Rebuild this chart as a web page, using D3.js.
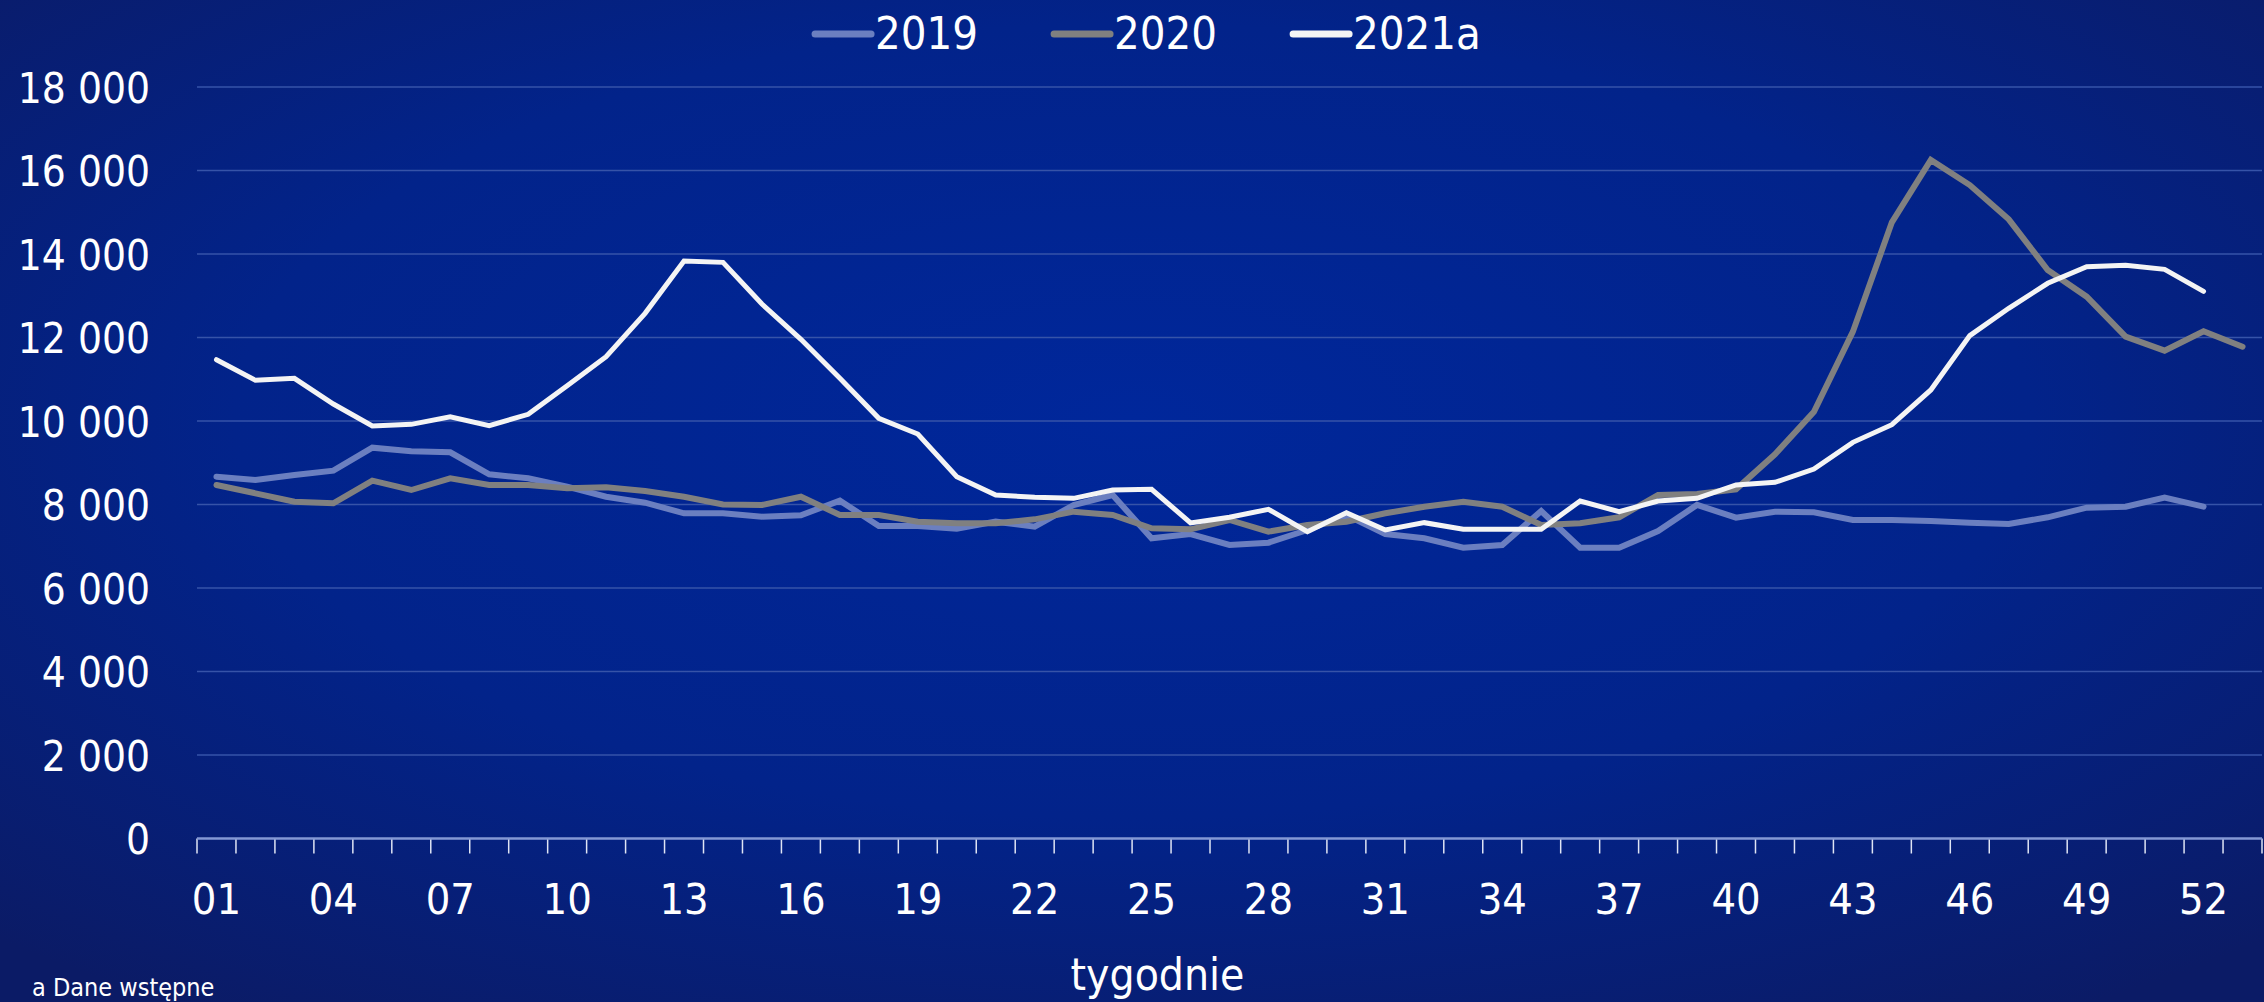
<!DOCTYPE html>
<html>
<head>
<meta charset="utf-8">
<script src="https://cdn.jsdelivr.net/npm/d3@7"></script>
<style>
    body { margin: 0; background: #0a1c68; }
    svg text { font-family: 'DejaVu Sans Condensed', 'DejaVu Sans', sans-serif; font-stretch: condensed; fill: #ffffff; }
</style>
</head>
<body>
<div id="chart"></div>
<script>
// tygodnie 01..53
let weeks = d3.range(1, 54).map(function (d) { return d < 10 ? "0" + d : String(d) })
let weekLabels = ["01", "04", "07", "10", "13", "16", "19", "22", "25", "28", "31", "34", "37", "40", "43", "46", "49", "52"]
let yTicks = [0, 2000, 4000, 6000, 8000, 10000, 12000, 14000, 16000, 18000]

let seriesNames = ["2019", "2020", "2021a"]
let seriesColors = ["#6b7fc0", "#808080", "#f4f4f4"]

let values2019 = [8667, 8587, 8707, 8810, 9361, 9274, 9250, 8723, 8627, 8427,
    8187, 8044, 7789, 7789, 7709, 7741, 8092, 7485, 7485, 7421,
    7589, 7469, 7988, 8228, 7190, 7293, 7030, 7086, 7389, 7749,
    7293, 7190, 6966, 7030, 7844, 6966, 6966, 7365, 7990, 7685,
    7828, 7812, 7629, 7629, 7605, 7565, 7533, 7693, 7924, 7948,
    8164, 7948]

let values2020 = [8467, 8268, 8068, 8028, 8571, 8347, 8627, 8467, 8467, 8387,
    8411, 8323, 8187, 8000, 7988, 8187, 7749, 7749, 7589, 7549,
    7549, 7645, 7828, 7749, 7429, 7406, 7629, 7349, 7509, 7589,
    7789, 7948, 8068, 7948, 7509, 7549, 7693, 8228, 8252, 8363,
    9202, 10223, 12140, 14758, 16251, 15652, 14830, 13617, 12978, 12020,
    11684, 12148, 11780]

let values2021 = [11468, 10974, 11022, 10407, 9880, 9920, 10103, 9888, 10160, 10846,
    11541, 12579, 13832, 13800, 12802, 11956, 11022, 10064, 9689, 8667,
    8228, 8172, 8148, 8347, 8363, 7560, 7693, 7885, 7349, 7804,
    7389, 7565, 7406, 7406, 7406, 8084, 7828, 8084, 8148, 8467,
    8531, 8850, 9489, 9912, 10743, 12044, 12699, 13298, 13696, 13729,
    13633, 13106]

let allSeries = [values2019, values2020, values2021]

let W = 2264, H = 1002
let margin = {top: 87, right: 2, bottom: 163.5, left: 197}

let svg = d3.select("#chart")
    .append("svg")
    .attr("width", W)
    .attr("height", H)

// tlo z gradientem
let grad = svg.append("defs").append("radialGradient")
    .attr("id", "bg")
    .attr("cx", "50%").attr("cy", "42%").attr("r", "72%")
grad.append("stop").attr("offset", "0%").attr("stop-color", "#00279b")
grad.append("stop").attr("offset", "55%").attr("stop-color", "#02238a")
grad.append("stop").attr("offset", "100%").attr("stop-color", "#0b1b66")

svg.append("rect")
    .attr("width", W)
    .attr("height", H)
    .attr("fill", "url(#bg)")

let x = d3.scaleBand()
    .domain(weeks)
    .range([margin.left, W - margin.right])
    .paddingInner(0)
    .paddingOuter(0)

let y = d3.scaleLinear()
    .domain([0, 18000])
    .range([H - margin.bottom, margin.top])

// linie siatki
svg.append("g")
    .selectAll("line")
    .data(yTicks.filter(function (d) { return d > 0 }))
    .enter()
    .append("line")
    .attr("x1", margin.left)
    .attr("x2", W - margin.right)
    .attr("y1", function (d) { return y(d) })
    .attr("y2", function (d) { return y(d) })
    .attr("stroke", "#3653a8")
    .attr("stroke-width", 1.5)

// os Y
let fmt = function (d) { return d3.format(",")(d).replace(/,/g, " ") }
let yAxis = svg.append("g")
    .attr("transform", "translate(" + (margin.left - 47) + ",0)")
    .call(d3.axisLeft(y).tickValues(yTicks).tickFormat(fmt).tickSize(0).tickPadding(0))
yAxis.select(".domain").remove()
yAxis.selectAll("text")
    .style("font-size", "42px")
    .attr("dy", "0.36em")

// os X
let xAxis = svg.append("g")
    .attr("transform", "translate(0," + y(0) + ")")
    .call(d3.axisBottom(x).tickValues(weekLabels).tickSize(0).tickPadding(0))
xAxis.select(".domain").remove()
xAxis.selectAll("text")
    .style("font-size", "43px")
    .attr("dy", "0")
    .attr("y", 75)

let bounds = weeks.map(function (d) { return x(d) }).concat([x(weeks[weeks.length - 1]) + x.bandwidth()])
svg.append("g")
    .selectAll("line")
    .data(bounds)
    .enter()
    .append("line")
    .attr("x1", function (d) { return d })
    .attr("x2", function (d) { return d })
    .attr("y1", y(0))
    .attr("y2", y(0) + 15)
    .attr("stroke", "#dfe4f4")
    .attr("stroke-width", 1.5)

svg.append("line")
    .attr("x1", margin.left)
    .attr("x2", W - margin.right)
    .attr("y1", y(0))
    .attr("y2", y(0))
    .attr("stroke", "#8498d4")
    .attr("stroke-width", 2.5)

// serie
let line = d3.line()
    .x(function (d, i) { return x(weeks[i]) + x.bandwidth() / 2 })
    .y(function (d) { return y(d) })

svg.append("g")
    .selectAll("path")
    .data(allSeries)
    .enter()
    .append("path")
    .attr("d", line)
    .attr("fill", "none")
    .attr("stroke", function (d, i) { return seriesColors[i] })
    .attr("stroke-width", function (d, i) { return i === 2 ? 5 : 6 })
    .attr("stroke-linecap", "round")
    .attr("stroke-linejoin", "miter")

// legenda
let legend = svg.append("g")
let lx = 0
let items = []
seriesNames.forEach(function (name, i) {
    let g = legend.append("g")
    g.append("line")
        .attr("x1", 0).attr("x2", 56)
        .attr("y1", 0).attr("y2", 0)
        .attr("stroke", seriesColors[i])
        .attr("stroke-width", 7)
        .attr("stroke-linecap", "round")
    let t = g.append("text")
        .attr("x", 60)
        .attr("y", 15)
        .style("font-size", "45px")
        .text(name)
    items.push({g: g, w: 60 + t.node().getComputedTextLength()})
})
items.forEach(function (it, i) {
    it.g.attr("transform", "translate(" + lx + ",0)")
    lx += it.w + (i < items.length - 1 ? 76 : 0)
})
legend.attr("transform", "translate(" + (1148 - lx / 2) + ",34)")

svg.append("text")
    .attr("x", (margin.left + W - margin.right) / 2 - 72)
    .attr("y", 990)
    .attr("text-anchor", "middle")
    .style("font-size", "44px")
    .text("tygodnie")

svg.append("text")
    .attr("x", 32)
    .attr("y", 996)
    .style("font-size", "25px")
    .text("a Dane wstępne")
</script>
</body>
</html>
